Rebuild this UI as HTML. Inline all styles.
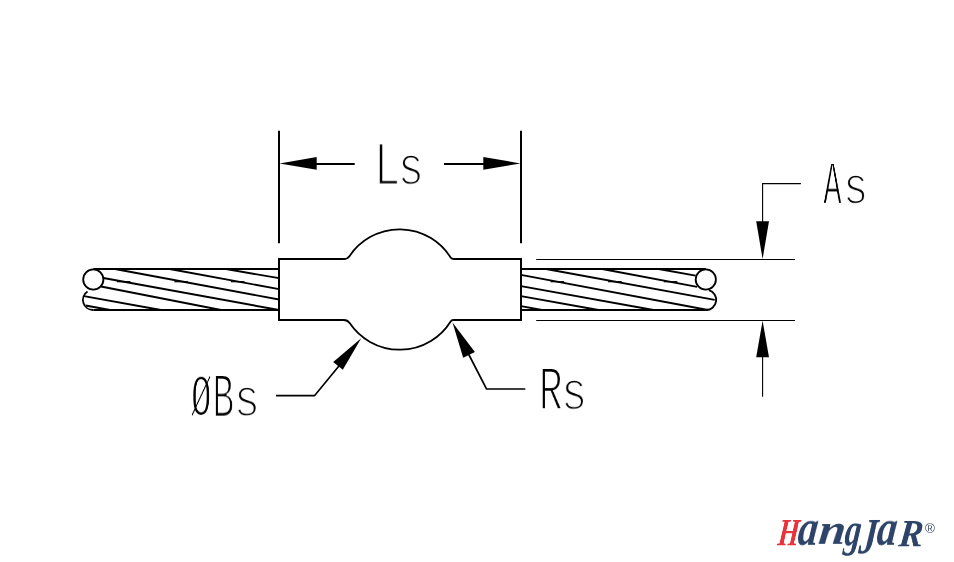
<!DOCTYPE html>
<html lang="en">
<head>
<meta charset="utf-8">
<title>HangJaR – ball shank swage fitting dimensions</title>
<style>
  html, body { margin: 0; padding: 0; background: #fff; }
  html { width: 954px; height: 562px; overflow: hidden; }
  body { width: 954px; height: 562px; overflow: hidden; position: relative; }
  svg { position: absolute; left: 0; top: 0; display: block; }
  .ln  { fill: none; stroke: #000; stroke-width: 2; stroke-linejoin: miter; }
  .arc { fill: none; stroke: #000; stroke-width: 1.8; }
  .cab { fill: none; stroke: #000; stroke-width: 1.85; stroke-linecap: butt; }
  .cab .edge { stroke-width: 2; }
  .cab .tick { stroke-width: 1.2; }
  .dim { fill: none; stroke: #000; stroke-width: 2; }
  .ldr { fill: none; stroke: #000; stroke-width: 1.7; stroke-linejoin: miter; }
  .thin{ fill: none; stroke: #000; stroke-width: 1.1; }
  .ah  { fill: #000; stroke: none; }
  .lbl, .logo { position: absolute; width: 0; height: 0; white-space: nowrap; font-size: 0; line-height: 0; }
  .lbl span, .logo span { display: inline-block; vertical-align: top; width: 0; height: 0; line-height: 1; transform-origin: 0 0; will-change: transform; }
  .lbl span { font-family: "Liberation Mono", monospace; font-size: 64px; color: #000; -webkit-text-stroke: 2.4px #fff; }
  .lbl span.dia { font-family: "DejaVu Sans Mono", "Liberation Mono", monospace; font-size: 64px; -webkit-text-stroke-width: 2.1px; }
  .lbl span.w19 { -webkit-text-stroke-width: 1.9px; }
  .lbl span.w22 { -webkit-text-stroke-width: 2.2px; }
  .logo span { font-family: "Liberation Serif", serif; font-weight: bold; font-style: italic; font-size: 60px; color: #2d4468; }
  .logo span.h { color: #e8323c; }
  .reg { position: absolute; left: 924.6px; top: 521.5px; font-family: "Liberation Sans", sans-serif; font-size: 13.5px; line-height: 1; color: #465165; will-change: transform; }
</style>
</head>
<body>
<svg width="954" height="562" viewBox="0 0 954 562">
  <rect x="0" y="0" width="954" height="562" fill="#ffffff"/>

  <!-- left cable -->
  <g class="cab">
    <path class="edge" d="M93.3 269 H279"/>
    <path class="edge" d="M93.3 310 H279"/>
    <circle cx="93.3" cy="279.5" r="10.1"/>
    <path d="M87.5 291.5 A10.1 10.1 0 0 0 93.3 310"/>
    <path d="M226 269 L279 278.2"/>
    <path d="M169.7 269 L279 289.1"/>
    <path d="M114.9 269 L279 299.5"/>
    <path d="M103.4 278 L279 310"/>
    <path d="M101 286.5 L221 310"/>
    <path d="M84 296.1 L161 310"/>
    <path d="M85.6 305.5 L110 310"/>
    <path class="tick" d="M116.9 281.7 H130.5"/>
    <path class="tick" d="M174.3 281.7 H187.9"/>
    <path class="tick" d="M230.9 281.7 H244.5"/>
  </g>

  <!-- right cable -->
  <g class="cab">
    <path class="edge" d="M521 269 H705.8"/>
    <path class="edge" d="M521 310 H705.8"/>
    <circle cx="705.8" cy="279.5" r="10.1"/>
    <path d="M708.9 290.2 A10.1 10.1 0 0 1 705.8 310"/>
    <path d="M521 306.1 L542 310"/>
    <path d="M521 296.1 L598.5 310"/>
    <path d="M521 286.1 L653.5 310"/>
    <path d="M521 274.9 L708 310"/>
    <path d="M546.1 269 L714.7 299.8"/>
    <path d="M602.2 269 L697.2 286.8"/>
    <path d="M658.6 269 L695.6 275.6"/>
    <path class="tick" d="M550.6 281.7 H564.2"/>
    <path class="tick" d="M608.1 281.7 H621.7"/>
    <path class="tick" d="M663.8 281.7 H677.4"/>
  </g>

  <!-- ball fitting body -->
  <path class="ln" d="M343.84 259.0 H279 V320.0 H343.84 M453.19 320.0 H521 V259.0 H453.19"/>
  <path class="arc" d="M343.34 259.0 H343.84 A7.0 7.0 0 0 0 349.65 255.91 A60.2 60.2 0 0 1 450.65 257.59 A3.0 3.0 0 0 0 453.19 259.0 H453.69"/>
  <path class="arc" d="M453.69 320.0 H453.19 A3.0 3.0 0 0 0 450.65 321.41 A60.2 60.2 0 0 1 349.65 323.09 A7.0 7.0 0 0 0 343.84 320.0 H343.34"/>

  <!-- Ls dimension -->
  <g class="dim">
    <path d="M279 130.8 V243.3"/>
    <path d="M521 130.8 V243.3"/>
    <path d="M310 164 H354.7"/>
    <path d="M444 164 H490"/>
  </g>
  <path class="ah" d="M279.6 163.4 L316.7 157 L316.7 169.7 Z"/>
  <path class="ah" d="M520.4 163.4 L483.3 157 L483.3 169.7 Z"/>

  <!-- As dimension -->
  <g class="thin">
    <path d="M536.2 259.5 H795"/>
    <path d="M536.2 320.5 H795"/>
    <path d="M800.9 183.6 H762.6 V225"/>
    <path d="M762.6 355 V396.8"/>
  </g>
  <path class="ah" d="M762.6 259 L756.2 221.2 L769 221.2 Z"/>
  <path class="ah" d="M762.6 320.8 L756.2 357.3 L769 357.3 Z"/>

  <!-- Rs leader -->
  <path class="ldr" d="M525.3 389 H486.5 L468 353"/>
  <path class="ah" d="M452.5 322.4 L463.2 357.8 L474.9 352 Z"/>

  <!-- ØBs leader -->
  <path class="ldr" d="M276 395.7 H314.5 L341 363.5"/>
  <path class="ah" d="M361.2 338.3 L333.2 362 L342.8 369.8 Z"/>
</svg>

<div class="lbl" style="left:380px;top:144px"><span style="transform:translate(-6.06px,-6.58px) scale(0.6895,0.9621)">L</span><span style="transform:translate(17.70px,-1.65px) scale(0.6854,0.8569)">s</span></div>
<div class="lbl" style="left:824px;top:163px"><span class="w19" style="transform:translate(-0.75px,-5.59px) scale(0.4787,0.9444)">A</span><span style="transform:translate(18.93px,-0.23px) scale(0.6647,0.8314)">s</span></div>
<div class="lbl" style="left:543px;top:369px"><span class="w22" style="transform:translate(-4.12px,-6.68px) scale(0.6206,0.9551)">R</span><span style="transform:translate(17.79px,-1.64px) scale(0.6931,0.8566)">s</span></div>
<div class="lbl" style="left:192px;top:376px"><span class="dia" style="transform:translate(-1.28px,-4.92px) scale(0.5447,0.8103)">Ø</span><span class="w22" style="transform:translate(20.29px,-6.74px) scale(0.5704,0.9646)">B</span><span style="transform:translate(41.75px,-1.46px) scale(0.6845,0.8465)">s</span></div>

<div class="logo" style="left:777px;top:520px"><span class="h" style="transform:translate(3.49px,-6.92px) skewX(-6deg) scale(0.4532,0.6452)">H</span><span style="transform:translate(24.35px,-18.43px) skewX(-6deg) scale(0.6653,0.8640)">a</span><span style="transform:translate(44.42px,-12.49px) skewX(-6deg) scale(0.8117,0.7247)">n</span><span style="transform:translate(70.90px,-14.65px) skewX(-6deg) scale(0.5444,0.8018)">g</span><span style="transform:translate(85.39px,-9.51px) skewX(-6deg) scale(0.5951,0.8561)">J</span><span style="transform:translate(103.35px,-18.43px) skewX(-6deg) scale(0.6653,0.8640)">a</span><span style="transform:translate(124.32px,-5.92px) skewX(-6deg) scale(0.6045,0.6452)">R</span></div>
<div class="reg">®</div>
</body>
</html>
